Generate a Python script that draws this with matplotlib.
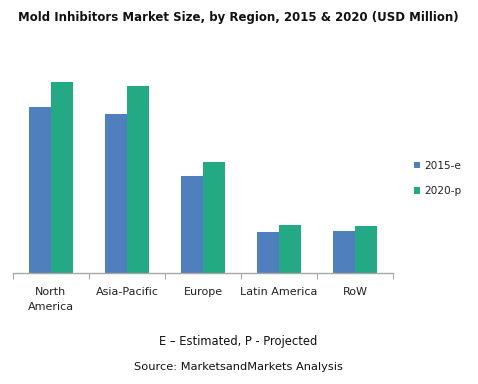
import matplotlib
matplotlib.use("Agg")
import matplotlib.pyplot as plt
import numpy as np

categories = ["North\nAmerica", "Asia-Pacific", "Europe", "Latin America", "RoW"]
series_2015 = [165.4, 158.4, 97.0, 40.7, 41.7]
series_2020 = [190.4, 187.0, 111.0, 47.7, 46.4]
legend_labels = ["2015-e", "2020-p"]
title = "Mold Inhibitors Market Size, by Region, 2015 & 2020 (USD Million)"
note = "E \u2013 Estimated, P - Projected"
source = "Source: MarketsandMarkets Analysis"

c_blue = "#4f7fbd"
c_green = "#23a984"

W, H = 478, 384
fig = plt.figure(figsize=(W/100, H/100), dpi=100)
ax_left, ax_right = 13, 393
ax_top, ax_bot = 60, 272.7
ax = fig.add_axes([ax_left/W, 1-ax_bot/H, (ax_right-ax_left)/W, (ax_bot-ax_top)/H])

x = np.arange(len(categories))
bw = 0.283
ax.bar(x - bw/2, series_2015, bw, color=c_blue, label=legend_labels[0])
ax.bar(x + bw/2, series_2020, bw, color=c_green, label=legend_labels[1])

ax.set_xlim(-0.5, len(categories)-0.5)
ax.set_ylim(0, ax_bot-ax_top)
for s in ["top", "right", "left"]:
    ax.spines[s].set_visible(False)
ax.spines["bottom"].set_color("#a6a6a6")
ax.spines["bottom"].set_linewidth(1.0)
ax.set_yticks([])
ax.set_xticks(np.arange(-0.5, len(categories)), minor=False)
ax.set_xticklabels([])
ax.tick_params(axis="x", which="major", length=4, color="#a6a6a6", direction="out")
ax.set_xticks(x, minor=True)
ax.set_xticklabels(categories, minor=True, fontsize=8, color="#222222", linespacing=1.65)
ax.tick_params(axis="x", which="minor", length=0, pad=10)

fig.text(238/W, 1-18/H, title, ha="center", va="center", fontsize=8.5, fontweight="bold", color="#111111")
fig.text(238/W, 1-341.7/H, note, ha="center", va="center", fontsize=8.3, color="#111111")
fig.text(238/W, 1-367/H, source, ha="center", va="center", fontsize=8.2, color="#111111")

leg = fig.legend(loc="center left", bbox_to_anchor=(404/W, 1-178.5/H), frameon=False,
                 fontsize=7.6, handlelength=0.6, handleheight=0.6, handletextpad=0.4,
                 labelspacing=1.45)
for t in leg.get_texts():
    t.set_color("#222222")

fig.savefig("out.png", dpi=100)
